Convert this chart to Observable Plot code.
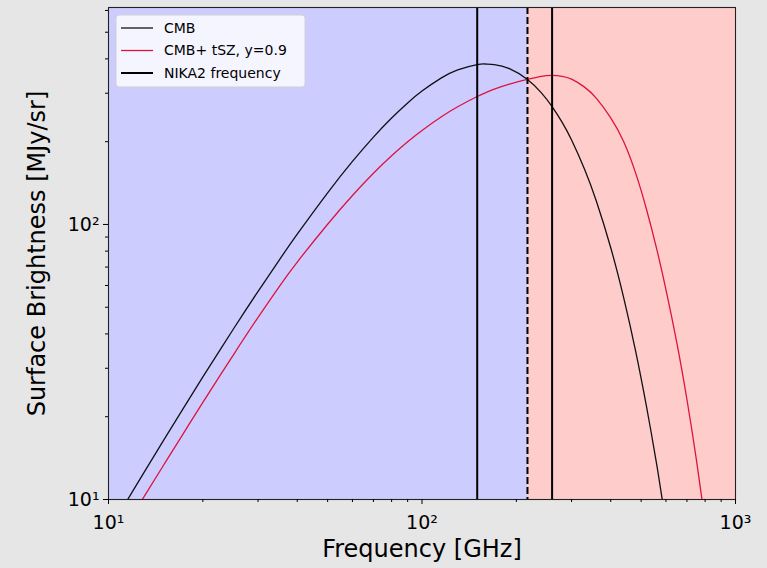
<!DOCTYPE html>
<html>
<head>
<meta charset="utf-8">
<script src="https://cdn.jsdelivr.net/npm/d3@7"></script>
<script src="https://cdn.jsdelivr.net/npm/@observablehq/plot@0.6"></script>
<style>
  html, body { margin: 0; padding: 0; background: #e6e6e6; }
  #chart { width: 767px; height: 568px; }
</style>
</head>
<body>
<div id="chart"></div>
<script>
// Frequency grid (GHz) shared by both spectra
const freqGHz = [11, 12, 13, 15, 17.5, 20, 25, 30, 35, 40, 50, 60, 70, 80, 90, 100, 115, 130, 150, 160,
  170, 190, 217, 240, 260, 280, 300, 330, 360, 400, 440, 480, 520, 560, 600, 650, 700, 750, 800];

// CMB blackbody surface brightness (MJy/sr)
const cmbBrightness = [9.17, 10.81, 12.57, 16.44, 21.86, 27.90, 41.59, 57.11, 74.07, 92.14, 130.3, 169.5,
  207.8, 243.9, 276.7, 305.5, 340.4, 364.8, 381.2, 383.1, 381.5, 368.7, 336.7, 301.6, 268.4, 235.1,
  202.8, 158.8, 121.4, 82.3, 54.1, 34.7, 21.8, 13.5, 8.19, 4.32, 2.23, 1.14, 0.57];

// CMB distorted by the thermal SZ effect (MJy/sr)
const cmbTszBrightness = [7.55, 8.86, 10.26, 13.35, 17.69, 22.54, 33.52, 45.96, 59.36, 73.0, 100.2, 127.5,
  153.6, 177.9, 199.9, 219.8, 245.9, 267.9, 291.9, 301.8, 310.4, 323.8, 337.0, 345.6, 348.3, 345.8,
  337.6, 315.8, 287.4, 244.1, 199.8, 154.0, 113.6, 81.9, 58.0, 37.1, 23.1, 14.0, 8.3];

// NIKA2 observing bands (GHz) and the tSZ null frequency
const nikaBands = [150, 260];
const tszNull = [217];

// Decrement / increment regions either side of the null
const regionNames = ["decrement", "increment"];
const regionFrom = [10, 217];
const regionTo = [217, 1000];

// Axis ticks
const majorTicks = [10, 100, 1000];
const majorTickLabels = ["10\u00b9", "10\u00b2", "10\u00b3"];
const minorTicksX = [20, 30, 40, 50, 60, 70, 80, 90, 200, 300, 400, 500, 600, 700, 800, 900];
const minorTicksY = [20, 30, 40, 50, 60, 70, 80, 90, 200, 300, 400, 500, 600];

// Legend entries
const legendLabels = ["CMB", "CMB+ tSZ, y=0.9", "NIKA2 frequency"];

const cmbRows = freqGHz.map((f, i) => ({f, v: cmbBrightness[i]}));
const tszRows = freqGHz.map((f, i) => ({f, v: cmbTszBrightness[i]}));
const regions = regionNames.map((name, i) => ({name, from: regionFrom[i], to: regionTo[i]}));
const fmtMajor = d => majorTickLabels[majorTicks.indexOf(d)];

const chart = Plot.plot({
  width: 767,
  height: 568,
  marginLeft: 108,
  marginRight: 32,
  marginTop: 7,
  marginBottom: 69,
  style: {background: "#e6e6e6", fontFamily: "DejaVu Sans", fontSize: "19px", color: "#000"},
  x: {type: "log", domain: [10, 1000]},
  y: {type: "log", domain: [10, 615]},
  color: {domain: regionNames, range: ["#ccccff", "#ffcccc"]},
  marks: [
    Plot.rect(regions, {x1: "from", x2: "to", fill: "name"}),
    Plot.line(cmbRows, {x: "f", y: "v", stroke: "#111", strokeWidth: 1.3, curve: "natural", clip: true}),
    Plot.line(tszRows, {x: "f", y: "v", stroke: "#dc143c", strokeWidth: 1.3, curve: "natural", clip: true}),
    Plot.ruleX(nikaBands, {stroke: "#000", strokeWidth: 2}),
    Plot.ruleX(tszNull, {stroke: "#000", strokeWidth: 2, strokeDasharray: "7,3"}),
    Plot.frame({stroke: "#222", strokeWidth: 1.1}),
    Plot.axisX({ticks: majorTicks, tickFormat: fmtMajor, tickSize: 5, tickPadding: 11, label: null}),
    Plot.axisX({ticks: minorTicksX, tickFormat: () => "", tickSize: 3, label: null}),
    Plot.axisY({ticks: majorTicks.filter(t => t <= 615), tickFormat: fmtMajor, tickSize: 5, tickPadding: 4, label: null}),
    Plot.axisY({ticks: minorTicksY, tickFormat: () => "", tickSize: 3, label: null}),
    Plot.text(["Frequency [GHz]"], {frameAnchor: "bottom", dy: 57, fontSize: 24, textAnchor: "middle"}),
    Plot.text(["Surface Brightness [MJy/sr]"], {frameAnchor: "left", dx: -71, rotate: -90, fontSize: 24, textAnchor: "middle"})
  ]
});

// Legend drawn in the upper-left corner of the frame
const svg = d3.select(chart);
const lg = svg.append("g").attr("class", "legend").attr("text-anchor", "start");
lg.append("rect")
  .attr("x", 116).attr("y", 15).attr("width", 189).attr("height", 72)
  .attr("rx", 3).attr("fill", "#fff").attr("fill-opacity", 0.8)
  .attr("stroke", "#d0d0d0").attr("stroke-width", 1);
const legendStyles = [
  {stroke: "#111", width: 1.3},
  {stroke: "#dc143c", width: 1.3},
  {stroke: "#000", width: 2}
];
legendLabels.forEach((label, i) => {
  const yy = 28 + i * 22.5;
  lg.append("line").attr("x1", 121).attr("x2", 153).attr("y1", yy).attr("y2", yy)
    .attr("stroke", legendStyles[i].stroke).attr("stroke-width", legendStyles[i].width);
  lg.append("text").attr("x", 164).attr("y", yy).attr("dy", "0.35em")
    .attr("text-anchor", "start").style("font-size", "14px").attr("fill", "#000").text(label);
});

document.getElementById("chart").appendChild(chart);
</script>
</body>
</html>
